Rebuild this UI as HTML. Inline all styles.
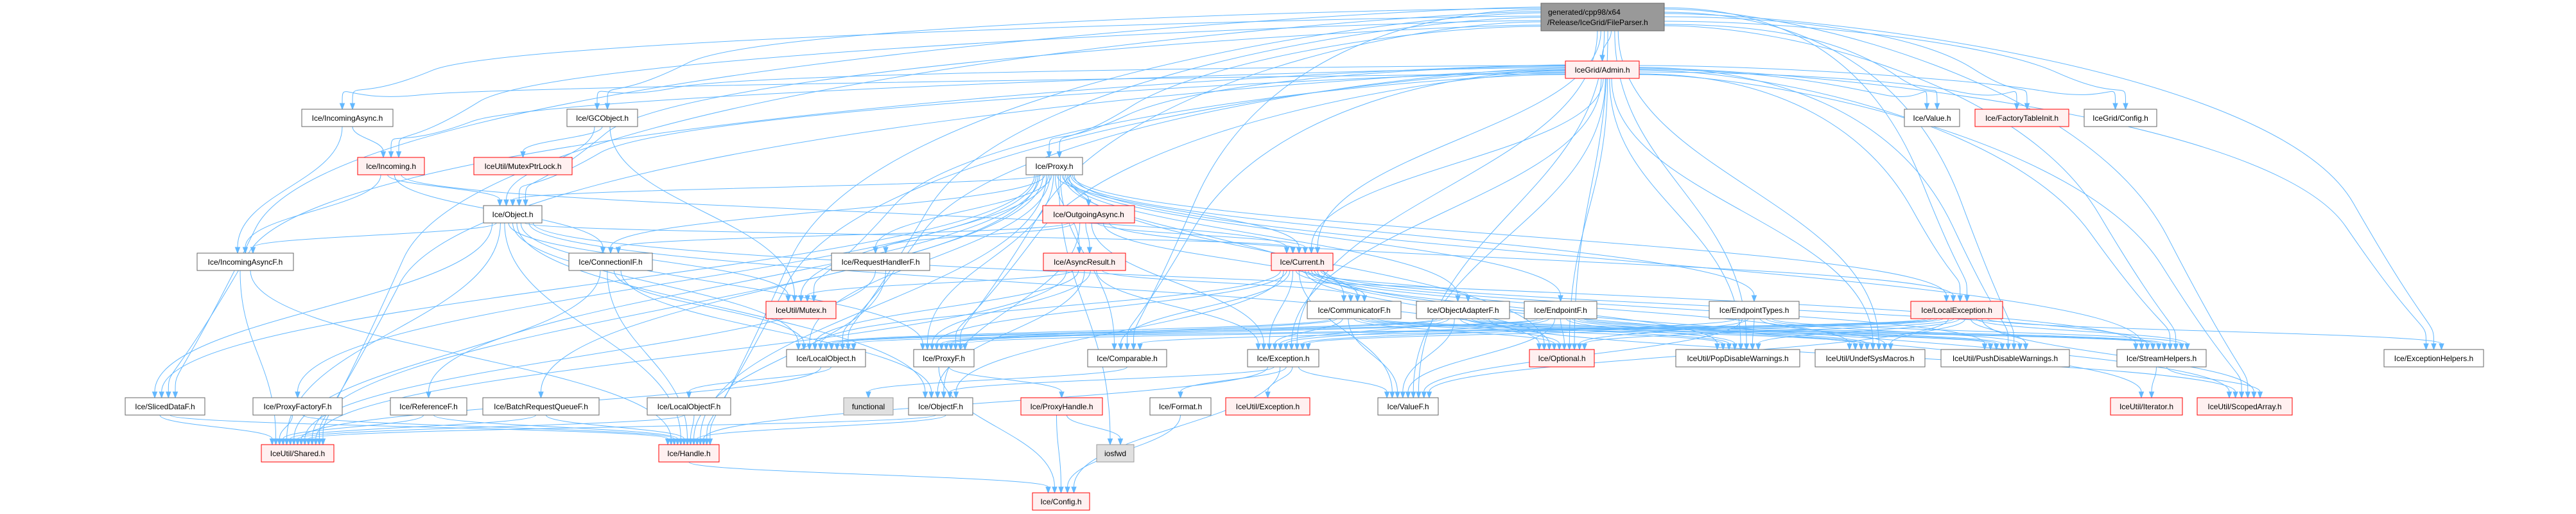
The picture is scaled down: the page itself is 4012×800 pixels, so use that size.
<!DOCTYPE html>
<html><head><meta charset="utf-8"><style>
html,body{margin:0;padding:0;background:#fff;width:4012px;height:800px;overflow:hidden}
svg{display:block}
text{font-family:"Liberation Sans",Arial,sans-serif;font-size:12px;fill:#000}
</style></head><body>
<svg id="g" width="4012" height="800" viewBox="0 0 4012 800" xmlns="http://www.w3.org/2000/svg">
<g id="edges" fill="none" stroke="#63b8ff" stroke-width="1"></g>
<g id="heads" fill="#63b8ff" stroke="#63b8ff"></g>
<g id="nodes">
<rect x="2400" y="5" width="192" height="43" fill="#999999" stroke="#666"/>
<text x="2411" y="23">generated/cpp98/x64</text><text x="2410" y="39">/Release/IceGrid/FileParser.h</text>
</g>
</svg>
<script>
(function(){
var SVGNS='http://www.w3.org/2000/svg';
var rows=[5,95,170,245,320,394,469,544,619,692,767];
var N={
admin:[2438,2553,1,'r','IceGrid/Admin.h'],
incAsync:[470,612,2,'n','Ice/IncomingAsync.h'],
gc:[883,993,2,'n','Ice/GCObject.h'],
value:[2966,3052,2,'n','Ice/Value.h'],
fti:[3076,3222,2,'r','Ice/FactoryTableInit.h'],
igcfg:[3246,3359,2,'n','IceGrid/Config.h'],
inc:[557,661,3,'r','Ice/Incoming.h'],
mpl:[738,891,3,'r','IceUtil/MutexPtrLock.h'],
proxy:[1598,1686,3,'n','Ice/Proxy.h'],
object:[753,844,4,'n','Ice/Object.h'],
oa:[1624,1767,4,'r','Ice/OutgoingAsync.h'],
iaf:[307,457,5,'n','Ice/IncomingAsyncF.h'],
conn:[886,1016,5,'n','Ice/ConnectionIF.h'],
rhf:[1295,1448,5,'n','Ice/RequestHandlerF.h'],
ar:[1625,1753,5,'r','Ice/AsyncResult.h'],
cur:[1980,2076,5,'r','Ice/Current.h'],
mutex:[1193,1302,6,'r','IceUtil/Mutex.h'],
comf:[2036,2182,6,'n','Ice/CommunicatorF.h'],
oaf:[2206,2351,6,'n','Ice/ObjectAdapterF.h'],
epf:[2374,2487,6,'n','Ice/EndpointF.h'],
ept:[2662,2802,6,'n','Ice/EndpointTypes.h'],
lex:[2976,3119,6,'r','Ice/LocalException.h'],
lo:[1225,1348,7,'n','Ice/LocalObject.h'],
pf:[1423,1517,7,'n','Ice/ProxyF.h'],
cmp:[1694,1817,7,'n','Ice/Comparable.h'],
exc:[1943,2054,7,'n','Ice/Exception.h'],
opt:[2382,2483,7,'r','Ice/Optional.h'],
pop:[2610,2803,7,'n','IceUtil/PopDisableWarnings.h'],
undef:[2827,2998,7,'n','IceUtil/UndefSysMacros.h'],
push:[3023,3223,7,'n','IceUtil/PushDisableWarnings.h'],
sh:[3297,3436,7,'n','Ice/StreamHelpers.h'],
exh:[3713,3868,7,'n','Ice/ExceptionHelpers.h'],
sdf:[195,319,8,'n','Ice/SlicedDataF.h'],
pff:[394,533,8,'n','Ice/ProxyFactoryF.h'],
ref:[608,727,8,'n','Ice/ReferenceF.h'],
brq:[752,933,8,'n','Ice/BatchRequestQueueF.h'],
lof:[1008,1138,8,'n','Ice/LocalObjectF.h'],
func:[1314,1391,8,'g','functional'],
of:[1415,1515,8,'n','Ice/ObjectF.h'],
ph:[1590,1717,8,'r','Ice/ProxyHandle.h'],
fmt:[1791,1886,8,'n','Ice/Format.h'],
uexc:[1909,2040,8,'r','IceUtil/Exception.h'],
vf:[2146,2240,8,'n','Ice/ValueF.h'],
iter:[3287,3399,8,'r','IceUtil/Iterator.h'],
sa:[3422,3570,8,'r','IceUtil/ScopedArray.h'],
shared:[407,520,9,'r','IceUtil/Shared.h'],
handle:[1026,1120,9,'r','Ice/Handle.h'],
iosfwd:[1708,1766,9,'g','iosfwd'],
config:[1608,1697,10,'r','Ice/Config.h'],
root:[2400,2592,0,'x','']
};
var E={
root:'admin incAsync gc value fti igcfg inc proxy object cur lo pf cmp exc opt sh exh sa sdf vf push pop undef lex shared handle',
admin:'incAsync gc inc object proxy cur value fti igcfg lo pf exc opt lex sh exh sa sdf handle shared mutex pop push undef vf cmp',
incAsync:'inc iaf',gc:'mpl object mutex',
inc:'object iaf conn cur',
object:'iaf sdf shared pf lo handle cur mutex of sh opt',
proxy:'object oa rhf ar mutex cur pf pff ref brq conn comf oaf epf ept lex cmp iosfwd handle shared sdf opt sh lo',
oa:'ar rhf conn comf cur lex exc of',
conn:'lo handle of shared',rhf:'shared handle',
ar:'lo pf mutex exc comf of shared',
cur:'oaf comf lo pf cmp exc opt sh pop push undef vf of sa iter',
comf:'lo pf exc opt pop push undef vf sh',
oaf:'lo pf exc opt pop push undef vf sh sa',
epf:'lo pf exc opt pop push undef vf sh',
ept:'exc opt pop push undef sh vf',
lex:'exh lo pf cmp exc opt pop push undef sh sa vf',
lo:'lof shared',lof:'handle shared',pf:'ph config',ph:'config iosfwd',
exc:'fmt uexc vf config of handle',fmt:'config',handle:'config',
of:'handle shared',sdf:'shared handle',pff:'shared handle',ref:'shared handle',brq:'shared handle',iaf:'shared handle',
sh:'iter sa',cmp:'func'
};
function nTop(n){return rows[N[n][2]];}
function nBot(n){return N[n][2]==0?48:rows[N[n][2]]+27;}
function cx(n){return (N[n][0]+N[n][1])/2;}
var ins={},outs={};
for(var s in E){E[s].split(' ').forEach(function(t){(outs[s]=outs[s]||[]).push(t);(ins[t]=ins[t]||[]).push(s);});}
for(var k in ins)ins[k].sort(function(a,b){return cx(a)-cx(b);});
for(var k in outs)outs[k].sort(function(a,b){return cx(a)-cx(b);});
function pos(n,list,item){var w=N[n][1]-N[n][0];var i=list.indexOf(item),c=list.length;var span=Math.min(w*0.7,c*8);return cx(n)-span/2+(c>1?span*i/(c-1):span/2);}
function mk(tag,attrs,parent,txt){var e=document.createElementNS(SVGNS,tag);for(var a in attrs)e.setAttribute(a,attrs[a]);if(txt)e.textContent=txt;parent.appendChild(e);return e;}
var ge=document.getElementById('edges'),gh=document.getElementById('heads'),gn=document.getElementById('nodes');
for(var s in outs){outs[s].forEach(function(t,idx){
 var x2=pos(t,ins[t],s),y2=nTop(t)-9;
 var x1,y1,d;
 var far=(s=='root'||s=='admin')&&Math.abs(cx(t)-cx(s))>500;
 if(far){
  var left=cx(t)<cx(s);
  x1=left?N[s][0]:N[s][1];
  var h=(s=='root')?43:27, ry=nTop(s);
  y1=ry+6+((idx*7)%(h-10));
  var mx=x2+(left?1:-1)*Math.min(250,Math.abs(x2-x1)*0.3);
  var my=y1+(y2-y1)*0.15+ (idx%5)*6;
  d='M'+x1.toFixed(1)+','+y1+' C'+(x1+(left?-1:1)*200).toFixed(1)+','+y1+' '+mx.toFixed(1)+','+my.toFixed(1)+' '+((mx+x2)/2).toFixed(1)+','+((my+y2)/2).toFixed(1)+' S'+x2.toFixed(1)+','+(y2-40)+' '+x2.toFixed(1)+','+y2;
 }else{
  x1=pos(s,outs[s],t);y1=nBot(s);
  var dy=y2-y1,c1y=y1+dy*0.45,c2y=y2-dy*0.45;
  d='M'+x1.toFixed(1)+','+y1+' C'+x1.toFixed(1)+','+c1y.toFixed(1)+' '+x2.toFixed(1)+','+c2y.toFixed(1)+' '+x2.toFixed(1)+','+y2;
 }
 mk('path',{d:d},ge);
 mk('polygon',{points:(x2-3.5).toFixed(1)+','+y2+' '+(x2+3.5).toFixed(1)+','+y2+' '+x2.toFixed(1)+','+(y2+9)},gh);
});}
for(var k in N){if(k=='root')continue;var d=N[k],y=rows[d[2]],w=d[1]-d[0];
 var f='#fff',st='#666';if(d[3]=='r'){f='#fff0f0';st='#f00';}if(d[3]=='g'){f='#e0e0e0';st='#999';}
 mk('rect',{x:d[0],y:y,width:w,height:27,fill:f,stroke:st},gn);
 mk('text',{x:d[0]+w/2,y:y+18,'text-anchor':'middle'},gn,d[4]);}
})();
</script>
</body></html>
